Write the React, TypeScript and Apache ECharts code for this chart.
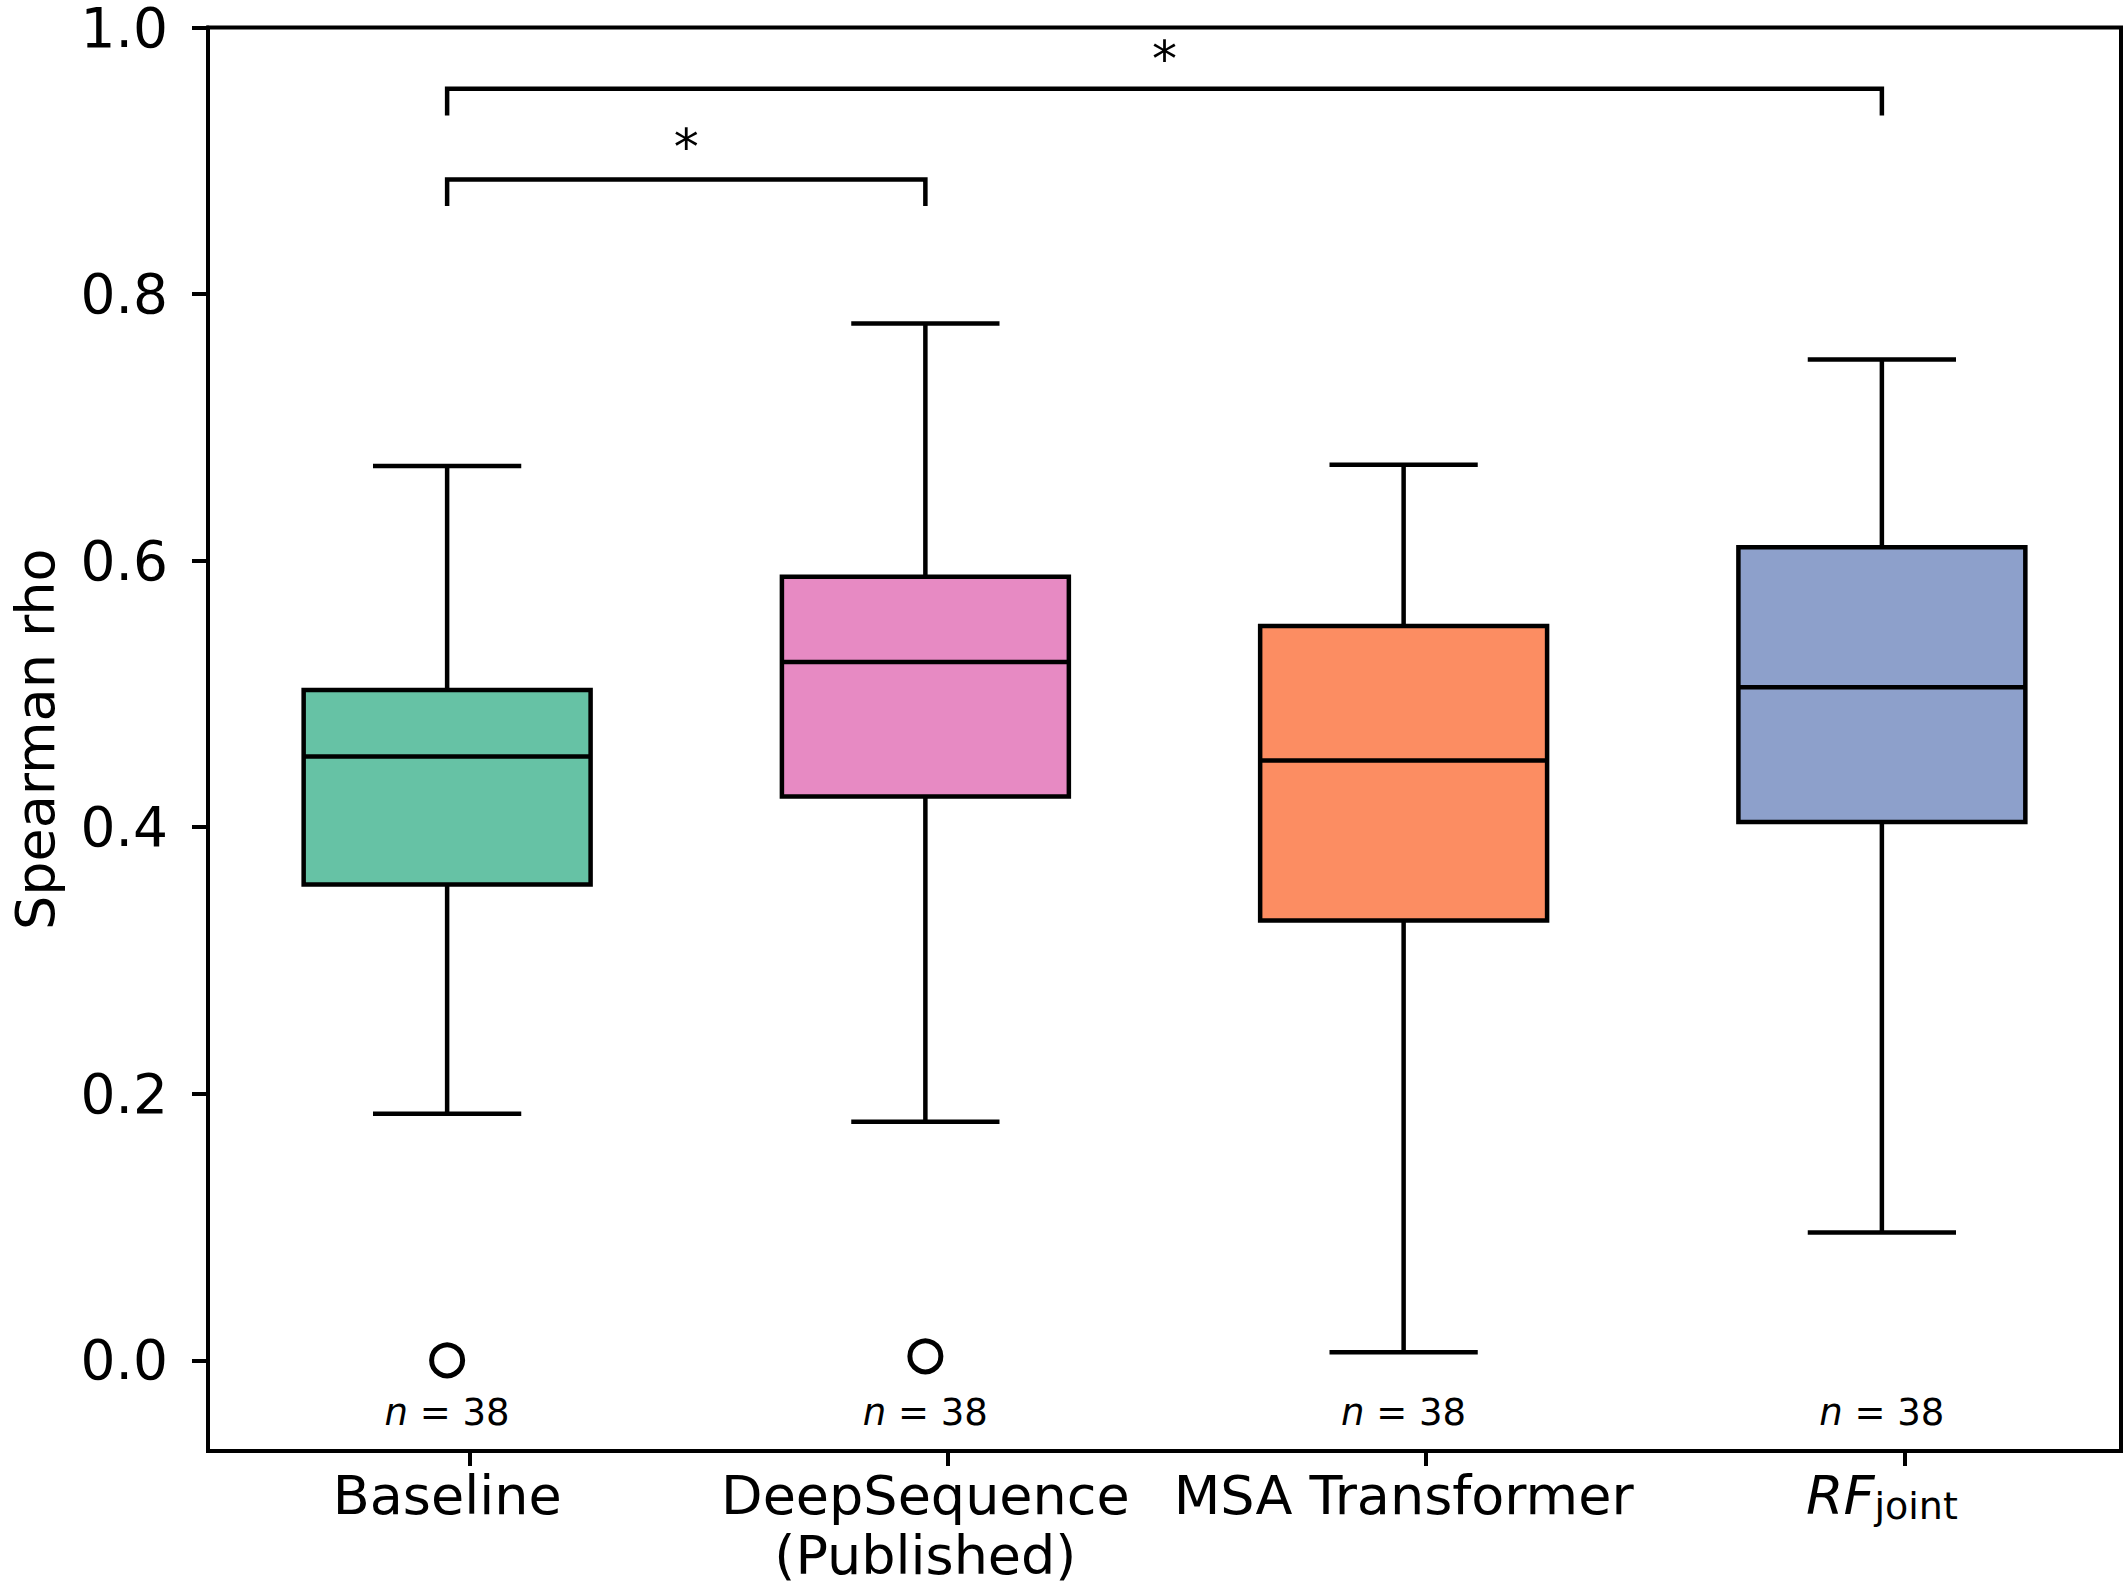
import React, { useEffect, useRef } from "react";
import * as echarts from "echarts";

const categories = ["Baseline", "DeepSequence\n(Published)", "MSA Transformer", "RF_joint"];
const boxColors = ["#66c2a5", "#e78ac3", "#fc8d62", "#8da0cb"];
const whiskerLow = [0.185, 0.179, 0.006, 0.096];
const q1 = [0.357, 0.423, 0.33, 0.404];
const median = [0.453, 0.524, 0.45, 0.505];
const q3 = [0.503, 0.588, 0.551, 0.61];
const whiskerHigh = [0.671, 0.778, 0.672, 0.751];
const outliers = [
  [0, 0.0],
  [1, 0.003],
];
const nCounts = [38, 38, 38, 38];
const nLabelY = -0.039;
const yTicks = [0, 0.2, 0.4, 0.6, 0.8, 1.0];
const xTickPositions = [0.047, 1.047, 2.047, 3.047];
const bracketFrom = [0, 0];
const bracketTo = [1, 3];
const bracketTop = [0.886, 0.954];
const bracketLeg = [0.866, 0.934];
const bracketStarY = [0.91, 0.976];
const bracketText = ["*", "*"];

const FONT = "DejaVu Sans";
const LW = 4.5;
const SPINE = 4;

export default function App() {
  const ref = useRef<HTMLDivElement>(null);
  useEffect(() => {
    if (!ref.current) return;
    const chart = echarts.init(ref.current, null, { renderer: "svg" });
    const boxData = categories.map((_, i) => [i, whiskerLow[i], q1[i], median[i], q3[i], whiskerHigh[i]]);
    const nData = categories.map((_, i) => [i, nLabelY, nCounts[i]]);
    const bracketData = bracketFrom.map((f, i) => [f, bracketTo[i], bracketTop[i], bracketLeg[i], bracketStarY[i]]);

    const option: any = {
      animation: false,
      backgroundColor: "#fff",
      grid: {
        left: 201,
        right: 7,
        top: 22,
        bottom: 134,
        show: true,
        borderColor: "#000",
        borderWidth: SPINE,
        backgroundColor: "transparent",
      },
      xAxis: [
        {
          type: "category",
          data: categories,
          boundaryGap: true,
          axisLine: { show: true, onZero: false, lineStyle: { color: "#000", width: SPINE } },
          axisTick: { show: false },
          splitLine: { show: false },
          axisLabel: {
            color: "#000",
            fontSize: 54,
            fontFamily: FONT,
            margin: 14,
            lineHeight: 60,
            interval: 0,
            formatter: (v: string) => (v === "RF_joint" ? "{i|RF}{s|joint}" : v),
            rich: {
              i: { fontStyle: "italic", fontSize: 54, fontFamily: FONT, color: "#000", lineHeight: 60 },
              s: { fontSize: 38, fontFamily: FONT, color: "#000", verticalAlign: "bottom", lineHeight: 44 },
            },
          },
        },
        {
          type: "value",
          min: -0.5,
          max: 3.5,
          position: "bottom",
          axisLine: { show: false, onZero: false },
          axisLabel: { show: false },
          splitLine: { show: false },
          axisTick: { show: true, customValues: xTickPositions, length: 15, lineStyle: { color: "#000", width: SPINE } },
        },
      ],
      yAxis: {
        type: "value",
        min: -0.068,
        max: 1.0,
        name: "Spearman rho",
        nameLocation: "middle",
        nameGap: 146,
        nameTextStyle: { color: "#000", fontSize: 54, fontFamily: FONT },
        axisLine: { show: true, onZero: false, lineStyle: { color: "#000", width: SPINE } },
        axisTick: { show: true, customValues: yTicks, length: 16, lineStyle: { color: "#000", width: SPINE } },
        splitLine: { show: false },
        axisLabel: {
          customValues: yTicks,
          color: "#000",
          fontSize: 55,
          lineHeight: 40,
          fontFamily: FONT,
          margin: 40,
          formatter: (v: number) => v.toFixed(1),
        },
      },
      series: [
        {
          type: "custom",
          name: "boxes",
          xAxisIndex: 0,
          data: boxData,
          encode: { x: 0, y: [1, 2, 3, 4, 5] },
          clip: false,
          renderItem: (params: any, api: any) => {
            const i = api.value(0);
            const band = api.size([1, 0])[0];
            const boxHalf = band * 0.3;
            const capHalf = band * 0.155;
            const cx = api.coord([i, api.value(1)])[0];
            const yLow = api.coord([i, api.value(1)])[1];
            const yQ1 = api.coord([i, api.value(2)])[1];
            const yMed = api.coord([i, api.value(3)])[1];
            const yQ3 = api.coord([i, api.value(4)])[1];
            const yHigh = api.coord([i, api.value(5)])[1];
            const ls = { stroke: "#000", lineWidth: LW };
            return {
              type: "group",
              children: [
                { type: "line", shape: { x1: cx, y1: yHigh, x2: cx, y2: yQ3 }, style: ls },
                { type: "line", shape: { x1: cx, y1: yQ1, x2: cx, y2: yLow }, style: ls },
                { type: "line", shape: { x1: cx - capHalf, y1: yHigh, x2: cx + capHalf, y2: yHigh }, style: ls },
                { type: "line", shape: { x1: cx - capHalf, y1: yLow, x2: cx + capHalf, y2: yLow }, style: ls },
                {
                  type: "rect",
                  shape: { x: cx - boxHalf, y: yQ3, width: boxHalf * 2, height: yQ1 - yQ3 },
                  style: { fill: boxColors[i], stroke: "#000", lineWidth: LW },
                },
                { type: "line", shape: { x1: cx - boxHalf, y1: yMed, x2: cx + boxHalf, y2: yMed }, style: ls },
              ],
            };
          },
        },
        {
          type: "scatter",
          name: "outliers",
          xAxisIndex: 0,
          data: outliers,
          symbol: "circle",
          symbolSize: 31,
          itemStyle: { color: "#fff", borderColor: "#000", borderWidth: 5, opacity: 1 },
          z: 5,
        },
        {
          type: "custom",
          name: "nlabels",
          xAxisIndex: 0,
          data: nData,
          encode: { x: 0, y: 1 },
          clip: false,
          renderItem: (params: any, api: any) => {
            const p = api.coord([api.value(0), api.value(1)]);
            return {
              type: "text",
              x: p[0],
              y: p[1],
              style: {
                text: "{i|n} = " + api.value(2),
                fill: "#000",
                fontSize: 37,
                fontFamily: FONT,
                align: "center",
                verticalAlign: "middle",
                rich: { i: { fontStyle: "italic", fontSize: 37, fontFamily: FONT, fill: "#000" } },
              },
            };
          },
        },
        {
          type: "custom",
          name: "brackets",
          xAxisIndex: 0,
          data: bracketData,
          encode: { x: [0, 1], y: [2, 3, 4] },
          clip: false,
          renderItem: (params: any, api: any) => {
            const a = api.value(0);
            const b = api.value(1);
            const top = api.value(2);
            const leg = api.value(3);
            const sy = api.value(4);
            const p1 = api.coord([a, leg]);
            const p2 = api.coord([a, top]);
            const p3 = api.coord([b, top]);
            const p4 = api.coord([b, leg]);
            const ps = api.coord([a, sy]);
            const mid = (p1[0] + p4[0]) / 2;
            return {
              type: "group",
              children: [
                {
                  type: "polyline",
                  shape: { points: [p1, p2, p3, p4] },
                  style: { stroke: "#000", lineWidth: LW, fill: "none" },
                },
                {
                  type: "text",
                  x: mid,
                  y: ps[1],
                  style: {
                    text: bracketText[params.dataIndex],
                    fill: "#000",
                    fontSize: 50,
                    fontFamily: FONT,
                    align: "center",
                    verticalAlign: "middle",
                  },
                },
              ],
            };
          },
        },
      ],
    };
    chart.setOption(option);
    return () => chart.dispose();
  }, []);
  return <div ref={ref} style={{ position: "absolute", left: 0, top: 0, width: 2128, height: 1585 }} />;
}
